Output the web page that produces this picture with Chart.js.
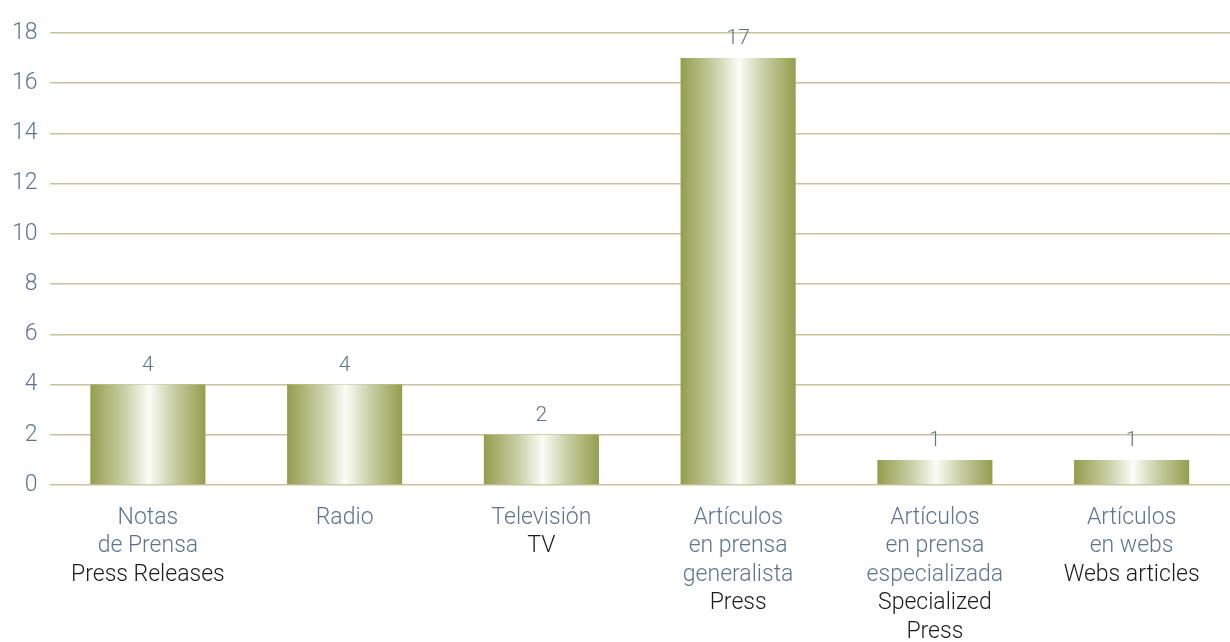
<!DOCTYPE html>
<html>
<head>
<meta charset="utf-8">
<script src="https://cdn.jsdelivr.net/npm/chart.js@4"></script>
<style>
  html, body { margin: 0; padding: 0; background: #fff; }
  #wrap { width: 1230px; height: 642px; }
</style>
</head>
<body>
<div id="wrap"><canvas id="myChart"></canvas></div>
<script>
// Spanish label lines and English translation lines for each category
const labelsEs = [
    ["Notas", "de Prensa"],
    ["Radio"],
    ["Televisión"],
    ["Artículos", "en prensa", "generalista"],
    ["Artículos", "en prensa", "especializada"],
    ["Artículos", "en webs"]
];
const labelsEn = [
    ["Press Releases"],
    [],
    ["TV"],
    ["Press"],
    ["Specialized", "Press"],
    ["Webs articles"]
];
const values = [4, 4, 2, 17, 1, 1];
const yMax = 18;
const yStep = 2;

const FONT = "Roboto, 'Liberation Sans', sans-serif";
const SLATE = "#5d7592";
const BLACK = "#1b1b1b";
const OLIVE = "#939e4d";
const BAR_PCT = 0.585;

// horizontal olive -> white -> olive shading for each bar
function barGradient(context) {
    const chart = context.chart;
    if (!chart.chartArea) return OLIVE;
    const xs = chart.scales.x;
    const cx = xs.getPixelForValue(context.dataIndex);
    const half = xs.width / values.length * BAR_PCT / 2;
    const g = chart.ctx.createLinearGradient(cx - half, 0, cx + half, 0);
    g.addColorStop(0, OLIVE);
    g.addColorStop(0.3, "#c9cfa6");
    g.addColorStop(0.51, "#fbfcf7");
    g.addColorStop(0.72, "#c9cfa6");
    g.addColorStop(1, OLIVE);
    return g;
}

const labelPlugin = {
    id: 'labelPlugin',
    afterDatasetsDraw(chart) {
        const ctx = chart.ctx;
        const xs = chart.scales.x;
        const ys = chart.scales.y;
        ctx.save();
        ctx.textAlign = 'center';
        ctx.textBaseline = 'middle';

        // values above bars
        ctx.font = "300 21px " + FONT;
        ctx.fillStyle = SLATE;
        values.forEach((v, i) => {
            ctx.fillText(String(v), xs.getPixelForValue(i), ys.getPixelForValue(v) - 19);
        });

        // two-colour category labels under the axis
        ctx.font = "300 23px " + FONT;
        const lineH = 28.5;
        labelsEs.forEach((es, i) => {
            const x = xs.getPixelForValue(i);
            let y = chart.chartArea.bottom + 33;
            ctx.fillStyle = SLATE;
            es.forEach(line => { ctx.fillText(line, x, y); y += lineH; });
            ctx.fillStyle = BLACK;
            labelsEn[i].forEach(line => { ctx.fillText(line, x, y); y += lineH; });
        });
        ctx.restore();
    }
};

const ctx = document.getElementById("myChart");
new Chart(ctx, {
    type: 'bar',
    data: {
        labels: labelsEs.map(l => l.join(' ')),
        datasets: [{
            data: values,
            backgroundColor: barGradient,
            borderWidth: 0,
            categoryPercentage: 1,
            barPercentage: BAR_PCT
        }]
    },
    options: {
        responsive: true,
        maintainAspectRatio: false,
        animation: false,
        layout: {
            padding: { top: 33, left: 0, right: 0, bottom: 149 }
        },
        plugins: {
            legend: { display: false },
            tooltip: { enabled: false }
        },
        scales: {
            x: {
                ticks: { display: false },
                grid: { display: false },
                border: { display: false }
            },
            y: {
                min: 0,
                max: yMax,
                ticks: {
                    stepSize: yStep,
                    color: SLATE,
                    padding: 12,
                    font: { family: FONT, size: 23, weight: 300 }
                },
                grid: { color: "#c8c39a", lineWidth: 1.5, drawTicks: false },
                border: { display: false }
            }
        }
    },
    plugins: [labelPlugin]
});
</script>
</body>
</html>
